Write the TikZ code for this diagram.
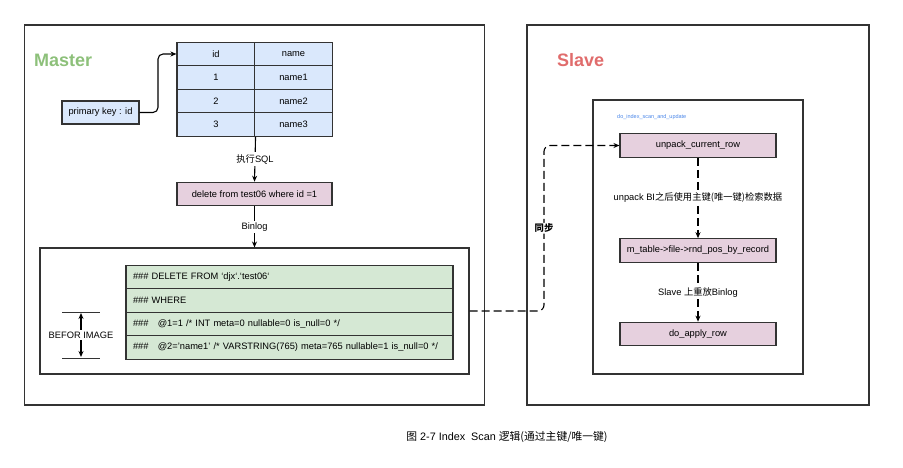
\documentclass[tikz,border=0pt]{standalone}
\usepackage{fontspec}
\setmainfont{Liberation Sans}
\newfontfamily\cjk{Noto Sans CJK SC}
\usetikzlibrary{arrows.meta}
\definecolor{bluefill}{HTML}{DAE8FC}
\definecolor{pinkfill}{HTML}{E6D0DE}
\definecolor{greenfill}{HTML}{D5E8D4}
\definecolor{edgec}{HTML}{333333}
\definecolor{mastergreen}{HTML}{8DC07A}
\definecolor{slavered}{HTML}{E06C6C}
\definecolor{bluetext}{HTML}{4A86E8}
\tikzset{
  every node/.style={font=\fontsize{9.3}{11}\selectfont, inner sep=0pt},
  frame/.style={draw=edgec, line width=1.1pt},
  bcell/.style={draw=edgec, line width=1.1pt, fill=bluefill, minimum width=78pt, minimum height=23.5pt},
  pbox/.style={draw=edgec, line width=1.1pt, fill=pinkfill, minimum height=23.5pt},
  gcell/.style={draw=edgec, line width=1.1pt, fill=greenfill, minimum width=327pt, minimum height=23.5pt, text width=313pt, align=left},
  conn/.style={draw=black, line width=1.1pt, -{Stealth[length=6pt,width=5pt]}},
  dconn/.style={conn, dash pattern=on 8pt off 4pt},
  lbl/.style={fill=white, inner sep=2pt},
  title/.style={font=\fontsize{18}{20}\selectfont\bfseries}
}
\begin{document}
\begin{tikzpicture}[x=1pt, y=-1pt]
\useasboundingbox (0,0) rectangle (903,468);
% outer frames
\node[frame, minimum width=460pt, minimum height=380pt] (master) at (254.5,215) {};
\node[frame, minimum width=342pt, minimum height=380pt] (slave) at (698,215) {};
\node[title, text=mastergreen, anchor=west] (mt) at (34,60) {Master};
\node[title, text=slavered, anchor=west] (st) at (557,60) {Slave};
% table
\node[bcell] (c11) at (216,54) {id};
\node[bcell] (c12) at (293.5,54) {name};
\node[bcell] (c21) at (216,77.5) {1};
\node[bcell] (c22) at (293.5,77.5) {name1};
\node[bcell] (c31) at (216,101) {2};
\node[bcell] (c32) at (293.5,101) {name2};
\node[bcell] (c41) at (216,124.5) {3};
\node[bcell] (c42) at (293.5,124.5) {name3};
\node[draw=edgec, line width=1.1pt, fill=bluefill, minimum width=77pt, minimum height=23pt] (pk) at (100.5,112.5) {primary key : id};
\coordinate (pkbend) at (158,112.5);
\draw[conn, rounded corners=5pt] (pk.east) -- (pkbend) |- (c11.west);
% delete
\node[pbox, minimum width=155pt] (del) at (254.5,194) {delete from test06 where id =1};
\draw[conn] (c41.south east) -- node[lbl] {{\cjk 执行}SQL} (del.north);
% binlog box
\node[frame, minimum width=429pt, minimum height=126pt] (bin) at (254.5,311) {};
\draw[conn] (del.south) -- node[lbl] {Binlog} (bin.north);
\node[gcell] (g1) at (289.5,277) {\#\#\# DELETE FROM `djx`.`test06`};
\node[gcell] (g2) at (289.5,300.5) {\#\#\# WHERE};
\node[gcell] (g3) at (289.5,324) {\#\#\#\ \ \ @1=1 /* INT meta=0 nullable=0 is\_null=0 */};
\node[gcell] (g4) at (289.5,347.5) {\#\#\#\ \ \ @2='name1' /* VARSTRING(765) meta=765 nullable=1 is\_null=0 */};
% BEFOR IMAGE
\node (bi) at (81,335) {BEFOR IMAGE};
\coordinate (bitl) at (62,312);
\coordinate (bitr) at (100,312);
\coordinate (bibl) at (62,358);
\coordinate (bibr) at (100,358);
\draw[draw=edgec, line width=1pt] (bitl) -- (bitr);
\draw[draw=edgec, line width=1pt] (bibl) -- (bibr);
\draw[conn, shorten <=2pt] (bi.north) -- (81,313);
\draw[conn, shorten <=2pt] (bi.south) -- (81,357);
% slave inner
\node[frame, minimum width=210pt, minimum height=274pt] (inner) at (698,237) {};
\node[anchor=west, text=bluetext, font=\fontsize{5.5}{6}\selectfont] (fn) at (617,117) {do\_index\_scan\_and\_update};
\node[pbox, minimum width=156pt] (ucr) at (698,145.5) {unpack\_current\_row};
\node[pbox, minimum width=156pt] (rnd) at (698,250.5) {m\_table->file->rnd\_pos\_by\_record};
\node[pbox, minimum width=156pt] (dar) at (698,334) {do\_apply\_row};
\draw[dconn] (ucr.south) -- node[lbl] {unpack BI{\cjk 之后使用主键(唯一键)检索数据}} (rnd.north);
\draw[dconn] (rnd.south) -- node[lbl] {Slave {\cjk 上重放}Binlog} (dar.north);
% sync
\coordinate (syncx) at (544,311);
\draw[dconn, rounded corners=6pt] (bin.east) -- (syncx) |- node[pos=0.25, lbl, inner sep=1pt, font=\fontsize{9.3}{11}\selectfont\cjk\bfseries] {同步} (ucr.west);
% caption
\node[font=\fontsize{10.8}{13}\selectfont] (cap) at (507,437) {{\cjk 图} 2-7 Index\ \ Scan {\cjk 逻辑(通过主键/唯一键)}};
\end{tikzpicture}
\end{document}
